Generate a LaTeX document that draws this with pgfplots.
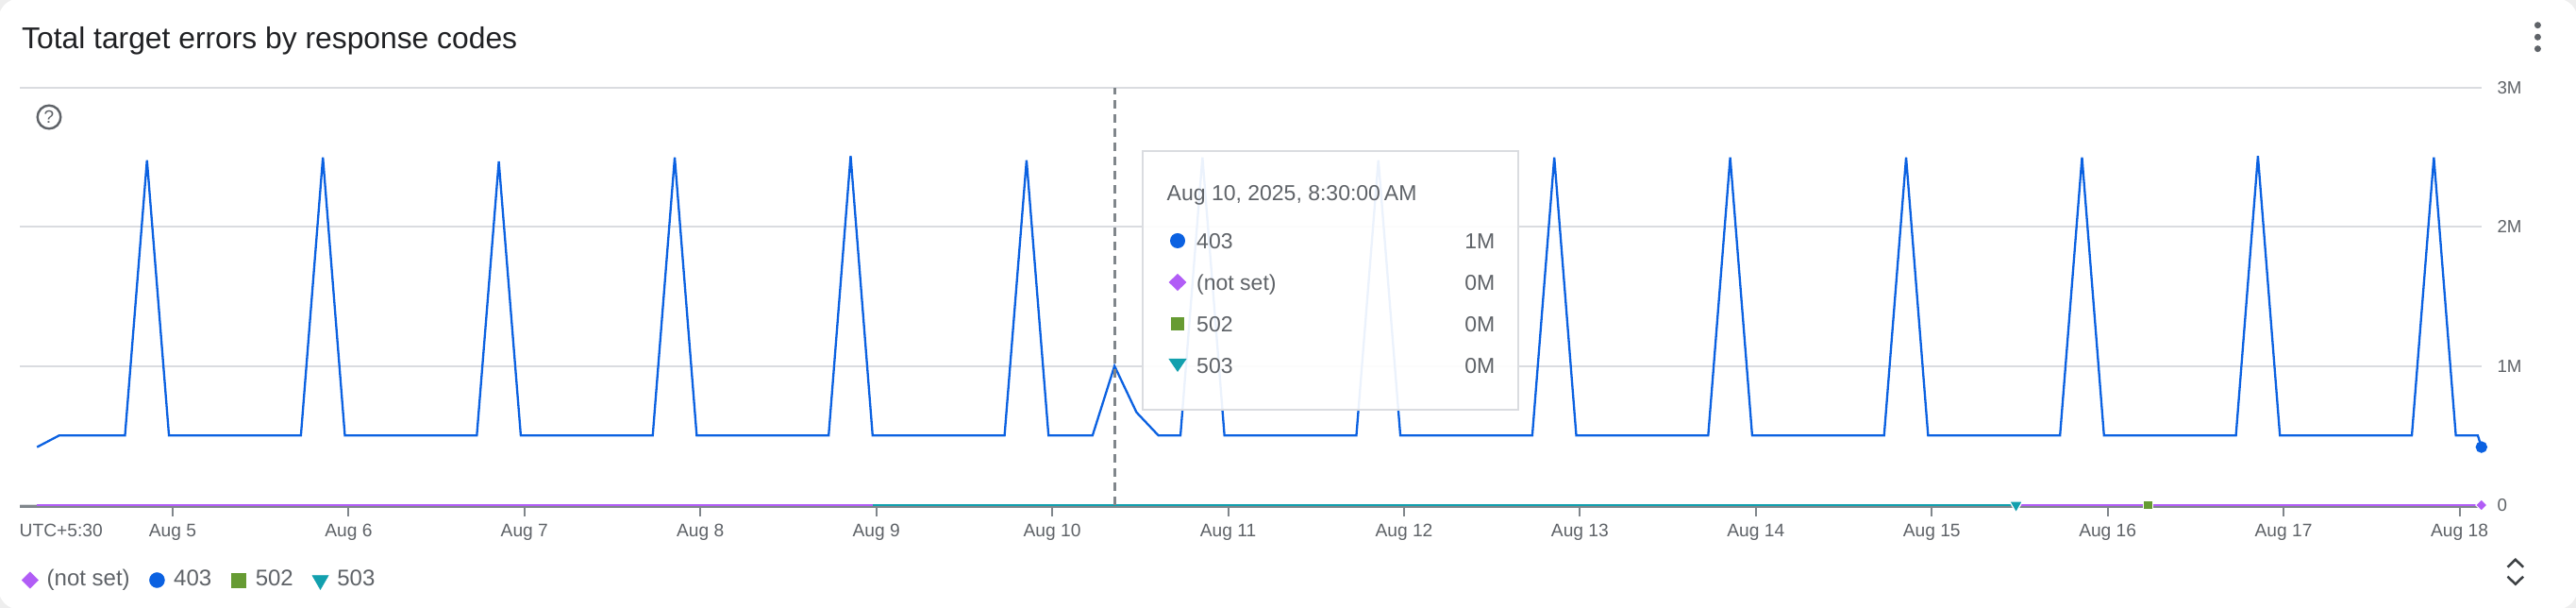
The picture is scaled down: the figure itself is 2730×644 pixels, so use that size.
\documentclass[border=0pt]{standalone}
\usepackage{fontspec}
\setmainfont{Liberation Sans}
\usepackage{pgfplots}
\pgfplotsset{compat=1.18}
\definecolor{cblue}{HTML}{0B61E1}
\definecolor{cpurple}{HTML}{B15DF6}
\definecolor{cgreen}{HTML}{669B33}
\definecolor{cteal}{HTML}{12A0AE}
\definecolor{gridgray}{HTML}{DADCE0}
\definecolor{axisgray}{HTML}{80868B}
\definecolor{labelgray}{HTML}{5F6368}
\definecolor{titlecol}{HTML}{202124}
\definecolor{chevcol}{HTML}{3C4043}
\definecolor{outside}{HTML}{EEEEEE}
\begin{document}
\begin{tikzpicture}[x=1pt,y=1pt]
\path[use as bounding box, fill=outside] (0,0) rectangle (2730,644);
\fill[white, rounded corners=22pt] (-1.5,-1.5) rectangle (2731.5,645.5);
\node[anchor=base west, inner sep=0pt, font=\fontsize{31.8}{33}\selectfont, text=titlecol] at (23,592.7) {Total target errors by response codes};
\draw[labelgray, line width=2.4pt] (52,520) circle (12.3);
\node[inner sep=0pt, font=\fontsize{19}{19}\selectfont, text=labelgray] at (52,520) {?};
\fill[labelgray] (2689.4,617.3) circle (3.5);
\fill[labelgray] (2689.4,604.7) circle (3.5);
\fill[labelgray] (2689.4,592.3) circle (3.5);
\draw[chevcol, line width=2.5pt] (2657.5,43.3) -- (2665.8,51.3) -- (2674.1,43.3);
\draw[chevcol, line width=2.5pt] (2657.5,33.3) -- (2665.8,25.3) -- (2674.1,33.3);
\node[anchor=base west, inner sep=0pt, font=\fontsize{19.2}{20}\selectfont, text=labelgray] at (20.5,75.5) {UTC+5:30};
\begin{axis}[
  at={(21pt,109pt)}, anchor=south west,
  scale only axis, width=2608.8pt, height=442pt,
  xmin=-20.85, xmax=315, ymin=0, ymax=3,
  clip=false,
  axis x line*=bottom, axis y line*=right,
  x axis line style={draw=axisgray, line width=2.3pt, yshift=-1.5pt, -},
  y axis line style={draw=none},
  tick align=inside,
  major tick length=10.5pt,
  xtick={0,24,...,312},
  xticklabels={Aug 5,Aug 6,Aug 7,Aug 8,Aug 9,Aug 10,Aug 11,Aug 12,Aug 13,Aug 14,Aug 15,Aug 16,Aug 17,Aug 18},
  xtick style={draw=axisgray, line width=2pt, yshift=-12pt},
  xticklabel style={anchor=base, inner sep=0pt, yshift=-33.5pt, font=\fontsize{19.2}{20}\selectfont, text=labelgray},
  ytick={0,1,2,3}, yticklabels={0,1M,2M,3M},
  ytick style={draw=none},
  yticklabel style={anchor=west, inner sep=0pt, xshift=16.5pt, font=\fontsize{18.7}{20}\selectfont, text=labelgray},
  ymajorgrids, grid style={draw=gridgray, line width=2pt},
  legend columns=-1,
  legend image code/.code={\path[draw=none, fill=none] (-9pt,-7pt) rectangle (9pt,11pt); \draw[#1] plot coordinates {(0pt,2pt)};},
  legend style={at={(axis description cs:0,0)}, anchor=west, xshift=1.7pt, yshift=-80pt,
    draw=none, fill=none, inner sep=0pt,
    font=\fontsize{24}{25}\selectfont,
    nodes={inner sep=0pt, text height=0.716em, text depth=0pt, text=labelgray},
    /tikz/every odd column/.append style={column sep=8.8pt},
    /tikz/every even column/.append style={column sep=19.7pt}},
]
% (not set)
\addplot[forget plot, color=cpurple, line width=2.3pt, mark=square*, mark indices={2}, mark size=4.3pt,
  mark options={rotate=45, fill=cpurple, draw=white, line width=1pt}]
  coordinates {(-18.5,0) (315,0)};
% 503
\addplot[forget plot, color=cteal, line width=2.3pt, mark=triangle*, mark indices={2}, mark size=8pt,
  mark options={rotate=180, fill=cteal, draw=white, line width=1.2pt}]
  coordinates {(95.5,0) (251.5,0)};
% 502
\addplot[forget plot, only marks, mark=square*, mark size=5pt,
  mark options={fill=cgreen, draw=white, line width=1.2pt}]
  coordinates {(269.5,0)};
% 403
\addplot[forget plot, color=cblue, line width=2.3pt, mark=*, mark indices={113}, mark size=5pt,
  mark options={fill=cblue, draw=cblue}]
  coordinates {
  (-18.5,0.417) (-15.5,0.5) (-12.5,0.5) (-9.5,0.5) (-6.5,0.5) (-3.5,2.48) (-0.5,0.5)
  (2.5,0.5) (5.5,0.5) (8.5,0.5) (11.5,0.5) (14.5,0.5) (17.5,0.5) (20.5,2.50) (23.5,0.5)
  (26.5,0.5) (29.5,0.5) (32.5,0.5) (35.5,0.5) (38.5,0.5) (41.5,0.5) (44.5,2.47) (47.5,0.5)
  (50.5,0.5) (53.5,0.5) (56.5,0.5) (59.5,0.5) (62.5,0.5) (65.5,0.5) (68.5,2.50) (71.5,0.5)
  (74.5,0.5) (77.5,0.5) (80.5,0.5) (83.5,0.5) (86.5,0.5) (89.5,0.5) (92.5,2.51) (95.5,0.5)
  (98.5,0.5) (101.5,0.5) (104.5,0.5) (107.5,0.5) (110.5,0.5) (113.5,0.5) (116.5,2.48) (119.5,0.5)
  (122.5,0.5) (125.5,0.5) (128.5,1.0) (131.5,0.667) (134.5,0.5) (137.5,0.5) (140.5,2.50) (143.5,0.5)
  (146.5,0.5) (149.5,0.5) (152.5,0.5) (155.5,0.5) (158.5,0.5) (161.5,0.5) (164.5,2.48) (167.5,0.5)
  (170.5,0.5) (173.5,0.5) (176.5,0.5) (179.5,0.5) (182.5,0.5) (185.5,0.5) (188.5,2.50) (191.5,0.5)
  (194.5,0.5) (197.5,0.5) (200.5,0.5) (203.5,0.5) (206.5,0.5) (209.5,0.5) (212.5,2.50) (215.5,0.5)
  (218.5,0.5) (221.5,0.5) (224.5,0.5) (227.5,0.5) (230.5,0.5) (233.5,0.5) (236.5,2.50) (239.5,0.5)
  (242.5,0.5) (245.5,0.5) (248.5,0.5) (251.5,0.5) (254.5,0.5) (257.5,0.5) (260.5,2.50) (263.5,0.5)
  (266.5,0.5) (269.5,0.5) (272.5,0.5) (275.5,0.5) (278.5,0.5) (281.5,0.5) (284.5,2.51) (287.5,0.5)
  (290.5,0.5) (293.5,0.5) (296.5,0.5) (299.5,0.5) (302.5,0.5) (305.5,0.5) (308.5,2.50) (311.5,0.5)
  (314.5,0.5) (315,0.417)
  };
\draw[axisgray, line width=3pt, dash pattern=on 9pt off 6pt] (axis cs:128.5,0) -- (axis cs:128.5,3);
\addlegendimage{mark=square*, mark size=6.15pt, mark options={rotate=45}, color=cpurple}
\addlegendentry{(not set)}
\addlegendimage{mark=*, mark size=8pt, color=cblue}
\addlegendentry{403}
\addlegendimage{mark=square*, mark size=7.3pt, color=cgreen}
\addlegendentry{502}
\addlegendimage{mark=triangle*, mark size=10pt, mark options={rotate=180}, color=cteal}
\addlegendentry{503}
\end{axis}
% tooltip
\draw[draw=gridgray, line width=2pt, fill=white, fill opacity=0.92] (1210.7,210) rectangle (1609.3,484);
\begin{scope}[font=\fontsize{23}{24}\selectfont]
\node[anchor=base west, inner sep=0pt, text=labelgray] at (1236.5,431.3) {Aug 10, 2025, 8:30:00\hspace{0.17em}AM};
\fill[cblue] (1248,389) circle (8);
\fill[cpurple] (1248,354.2) -- (1257.3,345) -- (1248,335.8) -- (1238.7,345) -- cycle;
\fill[cgreen] (1240.7,293.7) rectangle (1255.3,308.3);
\fill[cteal] (1238.4,264) -- (1257.6,264) -- (1248,250) -- cycle;
\node[anchor=base west, inner sep=0pt, text=labelgray] at (1268,380.8) {403};
\node[anchor=base west, inner sep=0pt, text=labelgray] at (1268,336.8) {(not set)};
\node[anchor=base west, inner sep=0pt, text=labelgray] at (1268,292.8) {502};
\node[anchor=base west, inner sep=0pt, text=labelgray] at (1268,248.8) {503};
\node[anchor=base east, inner sep=0pt, text=labelgray] at (1584.4,380.8) {1M};
\node[anchor=base east, inner sep=0pt, text=labelgray] at (1584.4,336.8) {0M};
\node[anchor=base east, inner sep=0pt, text=labelgray] at (1584.4,292.8) {0M};
\node[anchor=base east, inner sep=0pt, text=labelgray] at (1584.4,248.8) {0M};
\end{scope}
\end{tikzpicture}
\end{document}
